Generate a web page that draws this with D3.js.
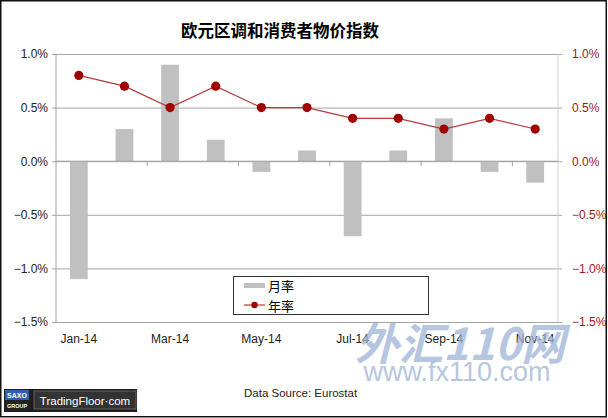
<!DOCTYPE html>
<html>
<head>
<meta charset="utf-8">
<script src="https://cdn.jsdelivr.net/npm/d3@7"></script>
<style>
  body { margin: 0; background: #fff; }
  text { font-family: "Liberation Sans", Arial, sans-serif; }
  .cjk { font-family: "Noto Sans CJK SC", sans-serif; }
</style>
</head>
<body>
<div id="chart"></div>
<script>
const FRAME_WIDTH = 608;
const FRAME_HEIGHT = 418;
const MARGINS = { left: 56, right: 50, top: 54, bottom: 96 };

// data
const months = ["Jan-14", "Feb-14", "Mar-14", "Apr-14", "May-14", "Jun-14",
                "Jul-14", "Aug-14", "Sep-14", "Oct-14", "Nov-14"];
const mom = [-1.1, 0.3, 0.9, 0.2, -0.1, 0.1, -0.7, 0.1, 0.4, -0.1, -0.2];
const yoy = [0.8, 0.7, 0.5, 0.7, 0.5, 0.5, 0.4, 0.4, 0.3, 0.4, 0.3];
const yTicks = [1.0, 0.5, 0.0, -0.5, -1.0, -1.5];
const shownMonths = ["Jan-14", "Mar-14", "May-14", "Jul-14", "Sep-14", "Nov-14"];

let svg = d3.select("#chart")
  .append("svg")
  .attr("width", FRAME_WIDTH)
  .attr("height", FRAME_HEIGHT);

let plot_width = FRAME_WIDTH - MARGINS.left - MARGINS.right;
let plot_height = FRAME_HEIGHT - MARGINS.top - MARGINS.bottom;

let x = d3.scaleBand().domain(months).range([0, plot_width]);
let y = d3.scaleLinear().domain([-1.5, 1.0]).range([plot_height, 0]);

let g = svg.append("g")
  .attr("transform", "translate(" + MARGINS.left + "," + MARGINS.top + ")");

let fmt = d => d3.format(".1f")(d) + "%";

// gridlines + left labels
let left = g.append("g")
  .call(d3.axisLeft(y).tickValues(yTicks).tickFormat(fmt)
    .tickSize(-plot_width - 0).tickPadding(8));
left.select(".domain").remove();
left.selectAll("line").attr("stroke", "#a6a6a6").attr("x1", -4).attr("x2", plot_width);
left.selectAll("text").attr("fill", "#222").style("font-size", "12px");

// right labels
let right = g.append("g")
  .attr("transform", "translate(" + plot_width + ",0)")
  .call(d3.axisRight(y).tickValues(yTicks).tickFormat(fmt).tickSize(4).tickPadding(10));
right.select(".domain").remove();
right.selectAll("line").attr("stroke", "#a6a6a6");
right.selectAll("text").attr("fill", "#a01818").style("font-size", "12px");

// axis lines
g.append("line").attr("x1", 0).attr("x2", 0).attr("y1", 0).attr("y2", plot_height)
  .attr("stroke", "#a0a0a0");
g.append("line").attr("x1", plot_width).attr("x2", plot_width).attr("y1", 0).attr("y2", plot_height)
  .attr("stroke", "#cfcfcf");

// bars
let barW = x.bandwidth() * 0.39;
g.selectAll(".bar")
  .data(months)
  .enter()
  .append("rect")
  .attr("class", "bar")
  .attr("x", (d) => x(d) + (x.bandwidth() - barW) / 2)
  .attr("width", barW)
  .attr("y", (d, i) => y(Math.max(0, mom[i])))
  .attr("height", (d, i) => Math.abs(y(mom[i]) - y(0)))
  .attr("fill", "#c0c0c0");

// zero axis with ticks every two months
g.append("line").attr("x1", 0).attr("x2", plot_width).attr("y1", y(0)).attr("y2", y(0))
  .attr("stroke", "#a0a0a0");
g.selectAll(".xtick")
  .data(months.filter((d, i) => i > 0 && i % 2 == 0))
  .enter()
  .append("line")
  .attr("x1", (d) => x(d)).attr("x2", (d) => x(d))
  .attr("y1", y(0)).attr("y2", y(0) + 5)
  .attr("stroke", "#a0a0a0");

// x labels at bottom
g.selectAll(".xlabel")
  .data(shownMonths)
  .enter()
  .append("text")
  .attr("x", (d) => x(d) + x.bandwidth() / 2)
  .attr("y", plot_height + 21)
  .attr("text-anchor", "middle")
  .attr("fill", "#222")
  .style("font-size", "12px")
  .text((d) => d);

// line
let line = d3.line()
  .x((d, i) => x(months[i]) + x.bandwidth() / 2)
  .y((d) => y(d));
g.append("path")
  .datum(yoy)
  .attr("d", line)
  .attr("fill", "none")
  .attr("stroke", "#b83a3a")
  .attr("stroke-width", 1.2);
g.selectAll(".dot")
  .data(yoy)
  .enter()
  .append("circle")
  .attr("cx", (d, i) => x(months[i]) + x.bandwidth() / 2)
  .attr("cy", (d) => y(d))
  .attr("r", 4.6)
  .attr("fill", "#a00000");

// title
svg.append("text")
  .attr("class", "cjk")
  .attr("x", 280)
  .attr("y", 37)
  .attr("text-anchor", "middle")
  .style("font-size", "16.5px")
  .style("font-weight", "bold")
  .text("欧元区调和消费者物价指数");

// watermark
svg.append("text")
  .attr("class", "cjk")
  .attr("x", 460)
  .attr("y", 360)
  .attr("text-anchor", "middle")
  .attr("fill", "#9fb3d6")
  .attr("opacity", 0.75)
  .style("font-size", "44px")
  .style("font-weight", "bold")
  .style("font-style", "italic")
  .text("外汇110网");
svg.append("text")
  .attr("x", 457)
  .attr("y", 381)
  .attr("text-anchor", "middle")
  .attr("fill", "#9fb3d6")
  .attr("opacity", 0.75)
  .style("font-size", "27px")
  .text("www.fx110.com");

// legend
let lg = svg.append("g");
lg.append("rect").attr("x", 233.5).attr("y", 276.5).attr("width", 195).attr("height", 38)
  .attr("fill", "#fff").attr("stroke", "#333").attr("stroke-width", 1);
lg.append("rect").attr("x", 244).attr("y", 283).attr("width", 21).attr("height", 5).attr("fill", "#c0c0c0");
lg.append("text").attr("class", "cjk").attr("x", 268).attr("y", 291)
  .style("font-size", "13px").text("月率");
lg.append("line").attr("x1", 244).attr("x2", 265).attr("y1", 305).attr("y2", 305)
  .attr("stroke", "#b83a3a").attr("stroke-width", 1.2);
lg.append("circle").attr("cx", 254.5).attr("cy", 305).attr("r", 3.2).attr("fill", "#a00000");
lg.append("text").attr("class", "cjk").attr("x", 268).attr("y", 311)
  .style("font-size", "13px").text("年率");

// source
svg.append("text")
  .attr("x", 244)
  .attr("y", 397)
  .attr("fill", "#222")
  .style("font-size", "11.5px")
  .text("Data Source: Eurostat");

// logo
let logo = svg.append("g");
logo.append("rect").attr("x", 4).attr("y", 389).attr("width", 133).attr("height", 23).attr("fill", "#1e1e1e");
logo.append("rect").attr("x", 5).attr("y", 390).attr("width", 24).attr("height", 21).attr("fill", "#2f5fa8");
logo.append("rect").attr("x", 5).attr("y", 400).attr("width", 24).attr("height", 11).attr("fill", "#222");
logo.append("text").attr("x", 17).attr("y", 398).attr("text-anchor", "middle")
  .attr("fill", "#fff").style("font-size", "7px").style("font-weight", "bold").text("SAXO");
logo.append("text").attr("x", 17).attr("y", 408).attr("text-anchor", "middle")
  .attr("fill", "#fff").style("font-size", "5.5px").style("font-weight", "bold").text("GROUP");
logo.append("rect").attr("x", 34).attr("y", 391).attr("width", 102).attr("height", 18)
  .attr("fill", "#333").attr("stroke", "#888").attr("stroke-width", 0.6);
logo.append("text").attr("x", 85).attr("y", 404.5).attr("text-anchor", "middle")
  .attr("fill", "#fff").style("font-size", "11.5px").text("TradingFloor·com");

// border
svg.append("rect").attr("x", 0.75).attr("y", 0.75)
  .attr("width", FRAME_WIDTH - 2.5).attr("height", FRAME_HEIGHT - 2)
  .attr("fill", "none").attr("stroke", "#111").attr("stroke-width", 1.5);
</script>
</body>
</html>
